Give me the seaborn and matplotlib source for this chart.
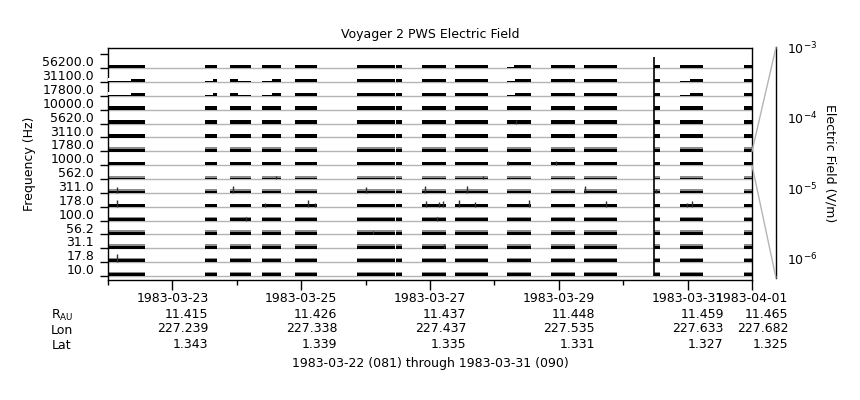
import numpy as np
import pandas as pd
import matplotlib
matplotlib.use('Agg')
import matplotlib.pyplot as plt
import seaborn as sns
from matplotlib.patches import ConnectionPatch

# Kanały częstotliwości (od dołu do góry)
channels = ['10.0', '17.8', '31.1', '56.2', '100.0', '178.0', '311.0', '562.0',
            '1000.0', '1780.0', '3110.0', '5620.0', '10000.0', '17800.0', '31100.0', '56200.0']

# Okresy z danymi (dni od 1983-03-22 00:00)
seg_start = [0.00, 1.506, 1.89, 2.39, 2.904, 3.862, 4.472, 4.876, 5.388, 6.196, 6.879, 7.391, 8.478, 8.882, 9.876]
seg_end = [0.575, 1.693, 2.22, 2.686, 3.245, 4.457, 4.565, 5.248, 5.901, 6.568, 7.252, 7.904, 8.571, 9.239, 10.0]

# Poziom tła w każdym kanale (V/m): czarny pas i szara górna część
black_top = [2.3e-6, 2.3e-6, 2.3e-6, 1.84e-6, 2.7e-6, 2.3e-6, 1.6e-6, 1.2e-6,
             3.2e-6, 2.0e-6, 3.2e-6, 3.2e-6, 3.2e-6, 3.2e-6, 3.2e-6, 3.2e-6]
gray_top = [5.2e-6, 5.2e-6, 4.7e-6, 4.7e-6, 4.0e-6, 2.3e-6, 3.5e-6, 2.7e-6,
            3.2e-6, 4.7e-6, 3.2e-6, 3.2e-6, 3.2e-6, 3.2e-6, 3.2e-6, 3.2e-6]

# Fragmenty o niższym poziomie
thin_chan = [14, 13, 14, 13, 14, 13, 14, 13, 15, 14, 13, 14, 13]
thin_t0 = [0.00, 0.00, 1.506, 1.506, 2.39, 2.39, 6.196, 6.196, 6.196, 8.882, 8.882, 2.02, 2.02]
thin_t1 = [0.35, 0.35, 1.63, 1.63, 2.55, 2.55, 6.32, 6.32, 6.30, 9.04, 9.04, 2.22, 2.22]
thin_e = 1.1e-6

# Pojedyncze impulsy
spike_chan = [6, 6, 6, 6, 6, 6, 6,
              5, 5, 5, 5, 5, 5, 5, 5, 5, 5, 5, 5, 5,
              1, 4, 4, 3, 2, 7, 7, 8, 8, 11]
spike_day = [0.14, 1.94, 4.00, 4.92, 5.57, 7.41, 8.51,
             0.14, 2.44, 3.11, 3.21, 4.94, 5.14, 5.20, 5.45, 5.70, 6.54, 7.73, 8.99, 9.07,
             0.14, 2.14, 5.11, 4.11, 5.22, 2.61, 5.82, 6.21, 6.96, 6.34]
spike_e = [1.4e-5, 2.4e-5, 1.4e-5, 2.4e-5, 2.4e-5, 2.4e-5, 4.7e-6,
           2.4e-5, 4.7e-6, 2.4e-5, 4.7e-6, 1.4e-5, 8.0e-6, 1.4e-5, 2.4e-5, 8.0e-6, 2.4e-5, 1.4e-5, 4.7e-6, 1.4e-5,
           4.2e-5, 4.0e-6, 4.0e-6, 4.0e-6, 5.2e-6, 2.7e-6, 2.7e-6, 4.0e-6, 4.0e-6, 4.0e-6]

# Krótki wybuch we wszystkich kanałach
burst_day = 8.478
burst_e = [1e-3, 1e-3, 1e-3, 1e-3, 1e-3, 1e-3, 1e-3, 1e-3,
           1e-3, 1e-3, 1e-3, 1e-3, 1e-3, 1e-3, 1e-3, 2.2e-4]

# Efemerydy
start_date = '1983-03-22'
tick_dates = ['1983-03-23', '1983-03-25', '1983-03-27', '1983-03-29', '1983-03-31', '1983-04-01']
r_au = ['11.415', '11.426', '11.437', '11.448', '11.459', '11.465']
lon = ['227.239', '227.338', '227.437', '227.535', '227.633', '227.682']
lat = ['1.343', '1.339', '1.335', '1.331', '1.327', '1.325']
minor_dates = ['1983-03-22', '1983-03-24', '1983-03-26', '1983-03-28', '1983-03-30']

e_min, e_max = 5.25e-7, 1e-3

sns.set_theme(style='ticks')
plt.rcParams['font.family'] = ['DejaVu Sans']
plt.rcParams['font.size'] = 9
plt.rcParams['axes.edgecolor'] = 'black'
plt.rcParams['xtick.color'] = 'black'
plt.rcParams['ytick.color'] = 'black'
plt.rcParams['text.color'] = 'black'
plt.rcParams['axes.labelcolor'] = 'black'


def band_y(i, e):
    lo, hi = np.log10(e_min), np.log10(e_max)
    return np.asarray(i) + (np.log10(e) - lo) / (hi - lo)


fig = plt.figure(figsize=(8.6, 4.0), dpi=100)
ax = fig.add_axes([108 / 860, 120 / 400, 644 / 860, 232 / 400])

# Linie bazowe kanałów
for i in range(len(channels)):
    ax.axhline(i, color='#b4b4b4', lw=1.0, zorder=1)

# Pasy danych
for i in range(len(channels)):
    for t0, t1 in zip(seg_start, seg_end):
        ax.fill_between([t0, t1], i - 0.02, band_y(i, gray_top[i]), color='#8c8c8c', lw=0, zorder=2)
        ax.fill_between([t0, t1], i - 0.02, band_y(i, black_top[i]), color='black', lw=0, zorder=3)

for c, t0, t1 in zip(thin_chan, thin_t0, thin_t1):
    ax.fill_between([t0, t1], band_y(c, thin_e), band_y(c, black_top[c]) + 0.02, color='white', lw=0, zorder=4)

ax.vlines(spike_day, spike_chan, band_y(spike_chan, spike_e), color='#303030', lw=1.0, zorder=5)
ax.vlines([burst_day] * len(channels), np.arange(len(channels)), band_y(np.arange(len(channels)), burst_e),
          color='black', lw=1.2, zorder=5)

# Oś Y: kanały
ax.set_ylim(-0.29, 16.46)
ax.set_yticks(np.arange(len(channels) + 1))
ax.set_yticklabels([])
ax.set_yticks(np.arange(len(channels)) + 0.5, minor=True)
ax.set_yticklabels(channels, minor=True, fontsize=9)
ax.tick_params(axis='y', which='major', length=6, width=1, direction='out')
ax.tick_params(axis='y', which='minor', length=0, pad=10)
ax.set_ylabel('Frequency (Hz)', fontsize=9)
ax.yaxis.set_label_coords(-0.112, 0.5)

# Oś X: daty i efemerydy
t_start = pd.Timestamp(start_date)
major_days = [(pd.Timestamp(d) - t_start).days for d in tick_dates]
minor_days = [(pd.Timestamp(d) - t_start).days for d in minor_dates]
labels = [f'{d}\n{r}\n{lo_}\n{la}' for d, r, lo_, la in zip(tick_dates, r_au, lon, lat)]
ax.set_xlim(0, 10)
ax.set_xticks(major_days, labels, fontsize=9, ma='right')
ax.set_xticks(minor_days, minor=True)
ax.tick_params(axis='x', which='major', length=7, width=1, pad=2, direction='out')
ax.tick_params(axis='x', which='minor', length=3.5, width=1, direction='out')
for s in ax.spines.values():
    s.set_linewidth(1.0)

ax.set_title('Voyager 2 PWS Electric Field', fontsize=9, pad=7.5)

fig.text(62 / 860, 1 - 315 / 400, r'R$_{\mathregular{AU}}$', ha='center', va='center', fontsize=9)
fig.text(62 / 860, 1 - 330.5 / 400, 'Lon', ha='center', va='center', fontsize=9)
fig.text(62 / 860, 1 - 345.5 / 400, 'Lat', ha='center', va='center', fontsize=9)
fig.text(0.5, 1 - 363 / 400, '1983-03-22 (081) through 1983-03-31 (090)', ha='center', va='center', fontsize=9)

# Skala natężenia pola po prawej
ax2 = fig.add_axes([776 / 860, 122 / 400, 0.0001, 230.6 / 400])
ax2.set_yscale('log')
ax2.set_ylim(e_min, e_max)
ax2.set_xticks([])
ax2.yaxis.tick_right()
sns.despine(ax=ax2, top=True, bottom=True, left=True, right=False)
ax2.spines['right'].set_linewidth(1.0)
ax2.tick_params(axis='y', which='major', length=6.5, width=1, direction='out', pad=1.5, labelsize=9)
ax2.tick_params(axis='y', which='minor', length=3, width=1, direction='out')
fig.text(830 / 860, 1 - 163 / 400, 'Electric Field (V/m)', rotation=270, ha='center', va='center', fontsize=9)

for ya, yb in [(9, 1), (8, 0)]:
    con = ConnectionPatch(xyA=(10, ya), coordsA='data', axesA=ax,
                          xyB=(0, yb), coordsB='axes fraction', axesB=ax2,
                          color='#b4b4b4', lw=1.0)
    fig.add_artist(con)

fig.savefig('out.png', dpi=100)
